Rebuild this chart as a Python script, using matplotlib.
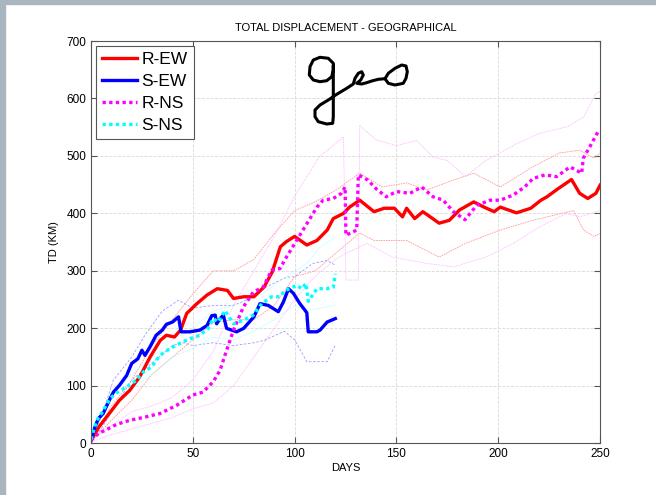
import numpy as np
import matplotlib
matplotlib.use("Agg")
import matplotlib.pyplot as plt
from matplotlib.patches import Rectangle

plt.rcParams['font.family'] = ['Liberation Sans', 'DejaVu Sans']

# ---- data ----
rew_days = [0, 4, 9, 14, 19, 24, 29, 34, 37, 41, 44, 47, 52, 57, 62, 67, 70, 75, 80, 85, 89, 93, 96, 100,
            106, 111, 116, 119, 124, 127, 132, 139, 144, 149, 153, 155, 159, 163, 171, 176, 181, 188, 193,
            198, 201, 209, 216, 221, 224, 229, 236, 240, 244, 248, 250]
rew_td = [5, 29, 52, 75, 92, 116, 150, 179, 188, 185, 197, 226, 243, 258, 269, 266, 252, 255, 255, 272, 298,
          342, 351, 360, 345, 353, 371, 391, 400, 411, 423, 403, 409, 409, 394, 409, 391, 403, 383, 388, 406,
          420, 411, 403, 411, 401, 409, 423, 429, 442, 459, 435, 426, 435, 449]

sew_days = [0, 2, 3.6, 6, 9, 11, 14, 17.5, 20, 23, 25, 26.5, 29, 32, 35, 37, 40, 43, 44.2, 48.6, 53.5, 57,
            59.3, 61, 61.7, 63.4, 65, 66.6, 71.5, 75, 80, 83, 87, 92, 94.5, 97, 99.4, 102.6, 105, 106,
            106.7, 111, 112.5, 116, 120]
sew_td = [5, 29, 43, 52, 75, 89, 101, 118, 139, 147, 162, 153, 168, 188, 197, 207, 211, 220, 194, 194, 197,
          205, 222, 223, 208, 217, 223, 200, 194, 200, 220, 243, 240, 229, 246, 269, 261, 243, 232, 227,
          194, 194, 197, 211, 217]

rns_days = [0, 3.6, 7.7, 12.6, 19, 27, 34, 42, 50, 55, 60, 63.4, 66.6, 70, 74.8, 79.7, 84.6, 88.7, 92.8, 96,
            101, 106, 111, 114, 119, 123, 124.8, 125.2, 130.5, 131.3, 136, 140, 145, 150, 156.7, 162.4, 168,
            173, 178, 183.7, 189.4, 196, 201, 207.4, 213, 217.2, 223, 228.7, 235.3, 241, 241.8, 245, 249, 250]
rns_td = [5, 17, 24, 33, 40, 46, 52, 66, 84, 89, 107, 127, 162, 197, 237, 263, 272, 301, 304, 324, 353, 382,
          411, 423, 426, 435, 446, 362, 371, 467, 458, 443, 429, 438, 435, 446, 429, 423, 403, 389, 414, 423,
          423, 432, 446, 461, 467, 464, 481, 470, 496, 516, 542, 539]

sns_days = [0, 2.8, 5.2, 9.3, 12.6, 17.5, 22.4, 25.7, 29.8, 33.9, 38.8, 43.7, 48.6, 53.5, 57.6, 60, 62.5,
            65.8, 70, 74.8, 79.7, 83.8, 88.7, 92.8, 95.3, 97.7, 101, 103.5, 105.6, 106.7, 111, 115.8, 119, 120]
sns_td = [7, 40, 52, 78, 88, 98, 110, 124, 133, 153, 165, 174, 182, 188, 200, 217, 211, 231, 208, 214, 223,
          243, 255, 255, 266, 269, 275, 269, 278, 247, 269, 269, 272, 295]

# spread lines (thin, pale)
rew_hi_days = [0, 10, 20, 30, 40, 50, 60, 70, 80, 90, 100, 110, 120, 132, 143, 155, 165, 178, 188, 201, 217,
               230, 240, 247, 250]
rew_hi = [5, 65, 110, 170, 215, 260, 300, 300, 320, 365, 405, 420, 440, 470, 446, 453, 441, 458, 470, 446, 481,
          505, 510, 496, 505]
rew_lo_days = [0, 10, 20, 30, 40, 50, 60, 70, 80, 90, 100, 110, 120, 132, 139, 155, 171, 184, 201, 217, 237,
               242, 247, 250]
rew_lo = [3, 40, 75, 120, 150, 180, 210, 215, 215, 240, 290, 300, 330, 366, 353, 353, 324, 348, 371, 388, 405,
          371, 360, 365]

rns_hi_days = [0, 10, 20, 30, 40, 50, 60, 70, 80, 90, 100, 112, 124, 125.2, 131.3, 132, 140, 150, 160, 168,
               175, 184, 194, 209, 220, 234, 242, 248, 250]
rns_hi = [5, 30, 55, 65, 80, 110, 160, 240, 300, 360, 430, 498, 533, 284, 284, 553, 528, 518, 527, 498, 492,
          464, 492, 521, 539, 551, 568, 609, 612]
rns_lo_days = [0, 10, 20, 30, 40, 50, 60, 70, 80, 90, 100, 110, 120, 125, 131, 135.5, 148, 165, 178, 194,
               207.5, 220.5, 233.6, 240, 250]
rns_lo = [3, 15, 25, 35, 45, 60, 70, 100, 150, 200, 250, 290, 320, 330, 340, 348, 324, 313, 307, 324, 348,
          377, 400, 394, 405]

sew_hi_days = [0, 5, 11, 20, 27, 35, 43, 50, 60, 70, 80, 86, 96, 100, 109, 116, 120]
sew_hi = [5, 45, 110, 150, 191, 230, 249, 235, 240, 240, 255, 272, 289, 290, 313, 318, 310]
sew_lo_days = [0, 5, 11, 20, 30, 40, 45, 50, 60, 70, 80, 85, 95, 100, 106, 116, 120]
sew_lo = [3, 25, 60, 110, 140, 170, 175, 170, 175, 170, 175, 179, 195, 180, 142, 142, 171]

sns_hi_days = [0, 10, 20, 30, 40, 50, 60, 70, 80, 90, 100, 106, 112, 120]
sns_hi = [6, 85, 120, 150, 180, 200, 230, 240, 250, 275, 300, 313, 340, 359]
sns_lo_days = [0, 10, 20, 30, 40, 50, 60, 70, 80, 90, 100, 106, 112, 120]
sns_lo = [4, 65, 95, 120, 150, 165, 185, 180, 195, 215, 240, 230, 235, 240]

# handwritten "geo" stroke, figure pixel coords (x right, y down)
geo_x = [333.3, 328.3, 320, 313.3, 310, 309.3, 313.3, 320, 326.7, 331.7, 333.3, 333.3,
         333.3, 333.3, 333.3, 332.7, 326.7, 318.3, 315, 315, 320, 328.3, 336.7, 346.7, 353.3,
         355, 358.3, 361.7, 363.3, 360.7, 356.7, 361.7, 366.7, 371.7, 378.3, 385,
         388.3, 395, 403.3, 406, 407.3, 406, 401.7, 395, 388.3, 385]
geo_y = [63.3, 58.3, 57.3, 60, 66.7, 75, 80, 81.7, 80.7, 76.7, 70, 65,
         83.3, 103.3, 116.7, 123.3, 124, 121.7, 116.7, 110, 105, 100, 94.3, 88.3, 84,
         78.3, 73.3, 71.7, 75, 80, 83.3, 84, 82.7, 81, 79.3, 78.7,
         83.3, 85, 83.3, 78.3, 71.7, 66, 65, 68.3, 73.3, 78.7]

W, H = 656, 495
fig = plt.figure(figsize=(W / 100, H / 100), dpi=100, facecolor="white")
# strip of the photo background on the left and top
fig.patches.append(Rectangle((0, 0), 5 / W, 1, transform=fig.transFigure, color="#a9b5bf", zorder=0))
fig.patches.append(Rectangle((0, 1 - 4 / H), 1, 4 / H, transform=fig.transFigure, color="#a9b5bf", zorder=0))

ax = fig.add_axes([91 / W, 1 - 443.3 / H, (600 - 91) / W, (443.3 - 41) / H])

thin = 0.6
ax.plot(rew_hi_days, rew_hi, color="#ff9a9a", lw=thin, ls=(0, (2, 1)))
ax.plot(rew_lo_days, rew_lo, color="#ff9a9a", lw=thin, ls=(0, (2, 1)))
ax.plot(rns_hi_days, rns_hi, color="#ffa8ff", lw=thin, ls=(0, (1, 1)))
ax.plot(rns_lo_days, rns_lo, color="#ffa8ff", lw=thin, ls=(0, (1, 1)))
ax.plot(sew_hi_days, sew_hi, color="#9a9aff", lw=thin, ls=(0, (3, 2)))
ax.plot(sew_lo_days, sew_lo, color="#9a9aff", lw=thin, ls=(0, (3, 2)))
ax.plot(sns_hi_days, sns_hi, color="#9affff", lw=thin, ls=(0, (1, 1)))
ax.plot(sns_lo_days, sns_lo, color="#9affff", lw=thin, ls=(0, (1, 1)))

ax.plot(rew_days, rew_td, color="red", lw=2.4, label="R-EW")
ax.plot(sew_days, sew_td, color="blue", lw=2.4, label="S-EW")
ax.plot(rns_days, rns_td, color="magenta", lw=2.4, ls=(0, (1, 1)), label="R-NS")
ax.plot(sns_days, sns_td, color="cyan", lw=2.4, ls=(0, (1, 1)), label="S-NS")

ax.set_xlim(0, 250)
ax.set_ylim(0, 700)
ax.set_xticks(range(0, 251, 50))
ax.set_yticks(range(0, 701, 100))
ax.grid(True, color="#d9d9d9", ls="--", lw=0.6)
ax.tick_params(direction="in", top=True, right=True, labelsize=8.5, length=4, color="#555555")
for s in ax.spines.values():
    s.set_color("#555555")
    s.set_linewidth(0.8)

ax.set_title("TOTAL DISPLACEMENT - GEOGRAPHICAL", fontsize=8, pad=7)
ax.set_xlabel("DAYS", fontsize=8, labelpad=2)
ax.set_ylabel("TD (KM)", fontsize=8, labelpad=5)

leg = ax.legend(loc="upper left", fontsize=12.5, fancybox=False, framealpha=1, edgecolor="#555555",
                handlelength=2.0, handletextpad=0.25, labelspacing=0.38, borderaxespad=0.3,
                borderpad=0.35)
leg.get_frame().set_linewidth(0.8)

gx = np.array(geo_x) / W
gy = 1 - np.array(geo_y) / H
fig.add_artist(plt.Line2D(gx, gy, transform=fig.transFigure, color="black", lw=2.2,
                          solid_joinstyle="round", solid_capstyle="round"))

fig.savefig("out.png", dpi=100)
